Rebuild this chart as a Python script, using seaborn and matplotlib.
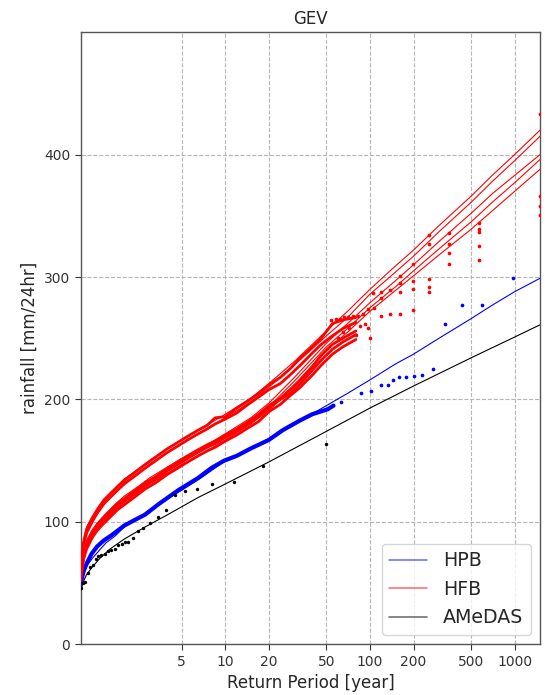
import numpy as np
import pandas as pd
import matplotlib
matplotlib.use("Agg")
import matplotlib.pyplot as plt
import seaborn as sns
from matplotlib.lines import Line2D
from matplotlib.ticker import FixedLocator, FixedFormatter, NullLocator

# ---- fitted GEV curves (return period [year], rainfall [mm/24hr]) ----
fit_T = [1.0, 1.05, 1.1, 1.2, 1.35, 1.5, 1.75, 2, 2.5, 3, 4, 5, 7, 10, 15, 20, 30, 50,
         70, 100, 150, 200, 300, 500, 700, 1000, 1500]
hpb_fit = [48, 58, 64, 70, 77, 83, 89, 96, 103, 110, 119, 126, 137, 150, 160, 168, 180, 195,
           205, 216, 229, 237, 250, 266, 277, 288, 299]
hfb_fit = {
    "A": [72, 86, 96, 104, 113, 120, 128, 135, 143, 150, 160, 167, 177, 188, 201, 213, 231, 256,
          272, 290, 309, 322, 342, 366, 383, 400, 420],
    "B": [70, 84, 93, 101, 110, 117, 125, 132, 140, 147, 157, 164, 174, 185, 198, 210, 228, 252,
          267, 286, 304, 317, 337, 361, 378, 395, 415],
    "C": [64, 77, 85, 93, 101, 107, 115, 121, 129, 136, 145, 152, 161, 172, 185, 197, 218, 246,
          262, 279, 297, 310, 329, 352, 368, 383, 400],
    "D": [62, 75, 83, 91, 99, 105, 113, 119, 127, 134, 143, 150, 159, 170, 183, 194, 215, 243,
          258, 275, 292, 305, 323, 345, 361, 377, 396],
    "E": [60, 73, 80, 88, 96, 102, 110, 116, 124, 131, 140, 147, 156, 167, 180, 191, 212, 240,
          255, 272, 289, 301, 318, 339, 354, 370, 388],
}
amedas_fit_T = [1.0, 1.05, 1.1, 1.2, 1.35, 1.6, 2, 2.8, 4, 6.5, 10, 20, 50, 100, 200, 500, 1000, 1500]
amedas_fit = [44, 52, 57, 63, 70, 78, 86, 96, 106, 120, 131, 149, 174, 193, 211, 234, 251, 261]

# ---- empirical (plotting position) values ----
hpb_dense_T = [1.0, 1.05, 1.1, 1.19, 1.3, 1.45, 1.63, 2.0, 2.4, 2.79, 3.5, 4.74, 5.74, 6.5,
               8, 9.8, 12, 15, 20, 25, 33, 40, 51, 56]
hpb_dense = [50, 60, 66, 74, 80, 85, 89, 97, 102, 106, 115, 126, 132, 136,
             144, 150, 154, 160, 167, 175, 183, 188, 192, 195]
hpb_tail_T = [63, 87, 101, 119, 133, 144, 160, 178, 201, 230, 273, 331, 431, 593, 976]
hpb_tail = [198, 205, 207, 212, 212, 216, 218, 218, 219, 220, 225, 262, 277, 277, 299]

hfb_dense_T = [1.0, 1.05, 1.1, 1.2, 1.3, 1.45, 1.6, 1.8, 2.0, 2.4, 2.8, 3.3, 4.0, 4.7, 5.5,
               6.5, 7.5, 8.5, 10, 12, 14, 17, 20, 24, 28, 33, 40, 46, 55, 65, 80]
hfb_dense = {
    "A": [62, 84, 94, 103, 110, 118, 123, 129, 134, 141, 147, 153, 160, 165, 170,
          175, 179, 185, 186, 193, 198, 205, 212, 218, 225, 234, 243, 250, 262, 265, 267],
    "B": [60, 82, 91, 100, 107, 115, 120, 126, 131, 138, 144, 150, 157, 162, 167,
          172, 176, 180, 184, 189, 195, 202, 208, 213, 220, 228, 238, 245, 252, 258, 263],
    "C": [56, 74, 83, 92, 98, 104, 109, 115, 119, 126, 132, 137, 144, 149, 154,
          159, 163, 166, 171, 176, 181, 188, 195, 201, 208, 216, 227, 236, 245, 250, 256],
    "D": [54, 72, 81, 90, 96, 102, 107, 113, 117, 124, 130, 135, 142, 147, 152,
          157, 161, 164, 169, 174, 179, 186, 193, 200, 205, 213, 224, 232, 241, 247, 253],
    "E": [52, 70, 78, 87, 93, 99, 104, 110, 114, 121, 127, 132, 139, 144, 149,
          154, 158, 161, 166, 171, 176, 182, 190, 196, 203, 210, 220, 228, 237, 243, 249],
}
hfb_tail_T = [54, 58, 62, 66, 71, 76, 82, 89, 60, 65, 72, 80, 86, 92, 97, 100,
              97, 105, 107, 120, 120, 120, 138, 138, 162, 162, 162, 162,
              199, 199, 199, 199, 255, 255, 255, 255, 255, 351, 351, 351, 351,
              570, 570, 570, 570, 570, 1490, 1490, 1490, 1490]
hfb_tail = [265, 266, 266, 267, 267, 268, 268, 270, 250, 255, 258, 253, 260, 262, 258, 250,
            274, 287, 275, 288, 283, 268, 289, 270, 301, 295, 288, 270,
            311, 297, 290, 273, 334, 327, 298, 292, 288, 336, 327, 320, 311,
            344, 339, 337, 325, 314, 433, 366, 358, 351]

amedas_T = [1.01, 1.04, 1.07, 1.12, 1.16, 1.22, 1.27, 1.32, 1.39, 1.47, 1.55, 1.63, 1.72,
            1.82, 1.92, 2.02, 2.14, 2.31, 2.5, 2.71, 3.02, 3.44, 3.87, 4.5, 5.28, 6.35,
            8.1, 11.4, 18.3, 49.6]
amedas_obs = [46, 50, 51, 58, 63, 65, 70, 72, 73, 74, 76, 77, 78,
              81, 82, 84, 84, 87, 93, 95, 99, 104, 110, 122, 125, 127,
              131, 133, 146, 164]

xticks = [5, 10, 20, 50, 100, 200, 500, 1000]
yticks = [0, 100, 200, 300, 400]

sns.set_style("ticks")
plt.rcParams["font.family"] = ["DejaVu Sans"]

fig = plt.figure(figsize=(5.45, 6.95), dpi=100)
ax = fig.add_axes([0.148, 0.0728, 0.843, 0.881])
ax.set_xscale("log")


def line(x, y, color, lw, z):
    sns.lineplot(x=x, y=y, ax=ax, color=color, lw=lw, sort=False,
                 estimator=None, legend=False, zorder=z)


def dots(x, y, color, s):
    sns.scatterplot(x=x, y=y, ax=ax, color=color, s=s, linewidth=0,
                    legend=False, zorder=4)


# HPB
line(hpb_dense_T, hpb_dense, "blue", 3.0, 3)
dots(hpb_tail_T, hpb_tail, "blue", 7)
line(fit_T, hpb_fit, "blue", 0.8, 3)

# HFB ensemble
for k in hfb_fit:
    line(hfb_dense_T, hfb_dense[k], "red", 2.0, 3)
    line(fit_T, hfb_fit[k], "red", 0.8, 3)
dots(hfb_tail_T, hfb_tail, "red", 7)

# AMeDAS
dots(amedas_T, amedas_obs, "black", 6)
line(amedas_fit_T, amedas_fit, "black", 0.8, 5)

ax.set_xlim(1, 1500)
ax.set_ylim(0, 500)
ax.xaxis.set_major_locator(FixedLocator(xticks))
ax.xaxis.set_major_formatter(FixedFormatter([str(t) for t in xticks]))
ax.xaxis.set_minor_locator(NullLocator())
ax.set_yticks(yticks)
ax.tick_params(labelsize=10, length=4, width=0.8, colors="#333333")
ax.grid(True, which="major", ls="--", color="#b5b5b5", lw=0.8)
for sp in ax.spines.values():
    sp.set_color("#555555")
    sp.set_linewidth(1.0)

ax.set_title("GEV", fontsize=12)
ax.set_xlabel("Return Period [year]", fontsize=12)
ax.set_ylabel("rainfall [mm/24hr]", fontsize=12)

handles = [Line2D([], [], color="blue", lw=1.2, alpha=0.55),
           Line2D([], [], color="red", lw=1.2, alpha=0.55),
           Line2D([], [], color="black", lw=1.2, alpha=0.55)]
ax.legend(handles, ["HPB", "HFB", "AMeDAS"], loc="lower right", fontsize=13.7,
          frameon=True, framealpha=0.8, edgecolor="#cccccc")

fig.savefig("out.png", dpi=100)
